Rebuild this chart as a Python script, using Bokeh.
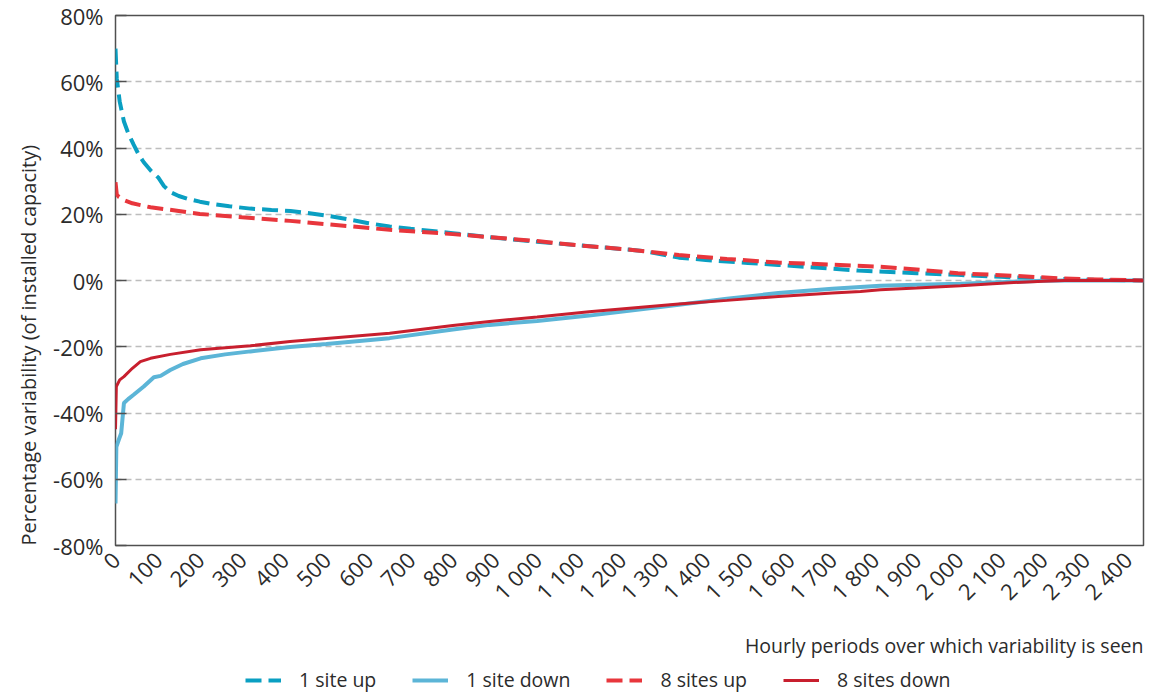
import math
from bokeh.plotting import figure
from bokeh.layouts import column
from bokeh.models import Range1d, FixedTicker, Legend, LegendItem, Label, Title
from bokeh.embed import file_html
from bokeh.resources import INLINE

# ---------------- data ----------------
x_ticks = list(range(0, 2500, 100))
x_tick_labels = ["0", "100", "200", "300", "400", "500", "600", "700", "800", "900",
                 "1 000", "1 100", "1 200", "1 300", "1 400", "1 500", "1 600", "1 700",
                 "1 800", "1 900", "2 000", "2 100", "2 200", "2 300", "2 400"]
y_ticks = [-80, -60, -40, -20, 0, 20, 40, 60, 80]
y_tick_labels = ["-80%", "-60%", "-40%", "-20%", "0%", "20%", "40%", "60%", "80%"]

up1_x = [0, 3, 10, 20, 30, 43, 55, 67, 85, 102, 115, 130, 150, 170, 200, 225, 270, 320,
         370, 415, 460, 500, 550, 600, 650, 700, 800, 887, 1000, 1100, 1200, 1250, 1300,
         1336, 1400, 1500, 1572, 1650, 1761, 1809, 1900, 1998, 2100, 2234, 2320, 2438]
up1_y = [70, 61, 54, 48, 44.5, 41, 38, 35.7, 33, 31, 28.5, 26.7, 25.5, 24.7, 23.8, 23.2,
         22.4, 21.7, 21.3, 21.0, 20.3, 19.6, 18.5, 17.3, 16.3, 15.6, 14.3, 13.1, 11.7,
         10.6, 9.5, 8.9, 7.8, 6.9, 6.2, 5.3, 4.7, 4.0, 3.0, 2.7, 2.2, 1.7, 1.1, 0.5, 0.2, 0]

down1_x = [0, 2, 8, 13.5, 20, 30, 43, 67, 91, 107, 130, 160, 202, 260, 320, 414, 500,
           650, 800, 887, 1000, 1123, 1336, 1450, 1572, 1700, 1814, 1900, 2004, 2100,
           2200, 2250, 2438]
down1_y = [-67.3, -50.2, -48, -46.1, -37, -35.8, -34.5, -32, -29.2, -28.8, -27, -25.2,
           -23.5, -22.3, -21.4, -20.1, -19.2, -17.4, -14.8, -13.4, -12.2, -10.6, -7.3,
           -5.5, -3.8, -2.5, -1.6, -1.3, -1.0, -0.5, -0.1, 0, 0]

up8_x = [0, 3, 8, 20, 40, 83, 150, 200, 300, 414, 500, 650, 800, 887, 1000, 1099, 1221,
         1336, 1450, 1572, 1700, 1809, 1900, 1998, 2100, 2234, 2330, 2438]
up8_y = [29.7, 26, 25.2, 24.3, 23.3, 22.1, 21.0, 20.1, 19.1, 18.0, 17.0, 15.3, 14.0,
         13.1, 11.9, 10.6, 9.3, 7.7, 6.5, 5.4, 4.8, 4.2, 3.3, 2.2, 1.6, 0.7, 0.3, 0]

down8_x = [0, 2, 10, 20, 40, 59, 83, 130, 202, 320, 414, 500, 650, 800, 887, 1000, 1123,
           1336, 1450, 1572, 1700, 1767, 1814, 1900, 2004, 2100, 2200, 2250, 2438]
down8_y = [-44.9, -32, -30, -29, -26.5, -24.5, -23.5, -22.3, -20.9, -19.7, -18.4, -17.5,
           -15.9, -13.6, -12.4, -11.0, -9.4, -7.1, -6.0, -4.8, -3.8, -3.3, -2.8, -2.3,
           -1.6, -0.8, -0.2, 0, 0]

series_names = ["1 site up", "1 site down", "8 sites up", "8 sites down"]
x_title = "Hourly periods over which variability is seen"
y_title = "Percentage variability (of installed capacity)"

# ---------------- styles ----------------
FONT = "Open Sans"
TXT = "#2b2b2b"
TICK_FS = "22px"
TEXT_FS = "19.5px"
styles = [dict(line_color="#0a9fc2", line_width=4, line_dash="16 7"),
          dict(line_color="#5cb5d7", line_width=4),
          dict(line_color="#e8363c", line_width=4, line_dash="16 7"),
          dict(line_color="#c81f2e", line_width=3)]
series = [(up1_x, up1_y), (down1_x, down1_y), (up8_x, up8_y), (down8_x, down8_y)]

# ---------------- main figure ----------------
p = figure(width=1148, height=620, x_range=Range1d(0, 2438), y_range=Range1d(-80, 80),
           output_backend="svg", toolbar_location=None,
           min_border_left=115, min_border_right=5, min_border_top=15, min_border_bottom=75)
p.background_fill_color = "white"
p.border_fill_color = "white"
p.outline_line_color = "#505050"
p.outline_line_width = 1.5

p.xgrid.grid_line_color = None
p.ygrid.grid_line_color = "#bdbdbd"
p.ygrid.grid_line_width = 1.3
p.ygrid.grid_line_dash = "6 4"
p.ygrid.ticker = FixedTicker(ticks=y_ticks)

xa = p.xaxis[0]
xa.ticker = FixedTicker(ticks=x_ticks)
xa.major_label_overrides = {t: s for t, s in zip(x_ticks, x_tick_labels)}
xa.major_label_orientation = math.pi / 4
xa.axis_line_color = None
xa.major_tick_line_color = None
xa.minor_tick_line_color = None
xa.major_label_text_font = FONT
xa.major_label_text_font_size = TICK_FS
xa.major_label_text_color = TXT
xa.major_label_standoff = 4

ya = p.yaxis[0]
ya.ticker = FixedTicker(ticks=y_ticks)
ya.major_label_overrides = {t: s for t, s in zip(y_ticks, y_tick_labels)}
ya.axis_line_color = None
ya.major_tick_line_color = "#505050"
ya.major_tick_line_width = 1.5
ya.major_tick_in = 11
ya.major_tick_out = 0
ya.minor_tick_line_color = None
ya.major_label_text_font = FONT
ya.major_label_text_font_size = TICK_FS
ya.major_label_text_color = TXT
ya.major_label_standoff = 12

p.add_layout(Title(text=y_title, align="left", text_font=FONT, text_font_size="20px",
                   text_font_style="normal", text_color=TXT, standoff=17), "left")

for (xs, ys), st in zip(series, styles):
    p.line(xs, ys, **st)

# ---------------- strip below: x title + legend ----------------
lg = figure(width=1148, height=75, x_range=p.x_range, y_range=Range1d(1000, 1075),
            output_backend="svg", toolbar_location=None,
            min_border_left=115, min_border_right=5, min_border_top=0, min_border_bottom=0,
            x_axis_location=None, y_axis_location=None)
lg.outline_line_color = None
lg.xgrid.visible = False
lg.ygrid.visible = False
lg.background_fill_color = "white"
lg.border_fill_color = "white"

lg.add_layout(Label(x=2438, y=1050, text=x_title, text_align="right", text_baseline="middle",
                    text_font=FONT, text_font_size=TEXT_FS, text_color=TXT))

items = []
for name, (xs, ys), st in zip(series_names, series, styles):
    r = lg.line(xs, ys, **st)   # same series; lies outside this strip's range, only its key shows
    items.append(LegendItem(label=name, renderers=[r]))
legend = Legend(items=items, orientation="horizontal", location=(130, 2),
                glyph_width=36, glyph_height=20, label_standoff=18, spacing=36,
                padding=0, margin=0, border_line_color=None, background_fill_alpha=0,
                label_text_font=FONT, label_text_font_size=TEXT_FS, label_text_color=TXT)
lg.add_layout(legend)

layout = column(p, lg, spacing=0)
open("out.html", "w").write(file_html(layout, INLINE))
